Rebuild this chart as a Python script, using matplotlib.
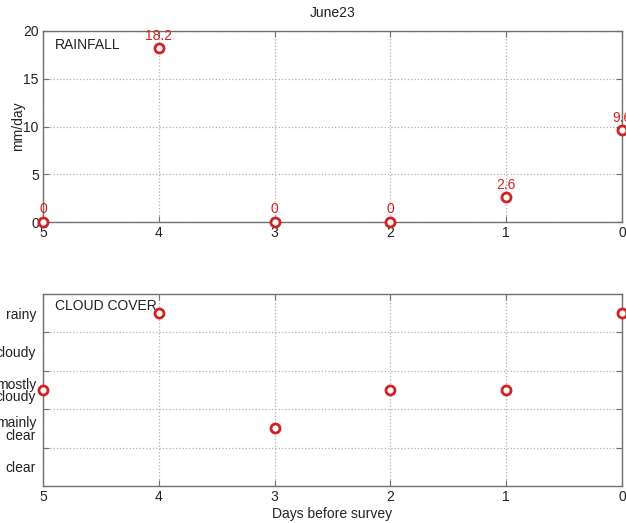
import matplotlib
matplotlib.use("Agg")
import matplotlib.pyplot as plt
from matplotlib.ticker import FixedLocator, NullFormatter, FixedFormatter

plt.rcParams['font.family'] = ['Liberation Sans', 'DejaVu Sans']

days = [5, 4, 3, 2, 1, 0]
rainfall = [0, 18.2, 0, 0, 2.6, 9.6]
rain_labels = ['0', '18.2', '0', '0', '2.6', '9.6']
cloud = [2.5, 4.5, 1.5, 2.5, 2.5, 4.5]
cloud_labels = ['clear', 'mainly\nclear', 'mostly\ncloudy', 'cloudy', 'rainy']
rain_yticks = [0, 5, 10, 15, 20]

W, H = 626, 523
fig = plt.figure(figsize=(W / 100, H / 100), dpi=100)

L = 43 / W
R = 622 / W
ax1 = fig.add_axes([L, 1 - 222 / H, R - L, (222 - 31) / H])
ax2 = fig.add_axes([L, 1 - 486 / H, R - L, (486 - 294) / H])

spine_c = '#707070'
red = '#d62020'
txt = '#222222'
fs = 10

for ax in (ax1, ax2):
    ax.set_xlim(5, 0)
    ax.set_xticks(days)
    ax.set_xticklabels([str(d) for d in days])
    for s in ax.spines.values():
        s.set_color(spine_c)
        s.set_linewidth(1.0)
    ax.tick_params(direction='in', length=4, color=spine_c, labelsize=fs,
                   labelcolor=txt, top=True, right=True, pad=3)
    ax.grid(True, linestyle=':', color='#b0b0b0', linewidth=0.9)
    ax.set_axisbelow(True)

# Rainfall
ax1.set_ylim(0, 20)
ax1.set_yticks(rain_yticks)
ax1.plot(days, rainfall, linestyle='none', marker='o', markersize=6.5,
         markerfacecolor='white', markeredgecolor=red, markeredgewidth=2,
         clip_on=False, zorder=5)
for d, v, t in zip(days, rainfall, rain_labels):
    ax1.annotate(t, (d, v), xytext=(0, 4), textcoords='offset points',
                 ha='center', va='bottom', color=red, fontsize=fs,
                 annotation_clip=False)
ax1.set_ylabel('mm/day', fontsize=fs, color=txt, labelpad=-1)
ax1.text(0.02, 0.965, 'RAINFALL', transform=ax1.transAxes, ha='left', va='top',
         fontsize=fs, color=txt)
ax1.set_title('June23', fontsize=fs, color=txt, pad=10)

# Cloud cover
ax2.set_ylim(0, 5)
ax2.yaxis.set_major_locator(FixedLocator([1, 2, 3, 4]))
ax2.yaxis.set_major_formatter(NullFormatter())
ax2.yaxis.set_minor_locator(FixedLocator([0.5, 1.5, 2.5, 3.5, 4.5]))
ax2.yaxis.set_minor_formatter(FixedFormatter(cloud_labels))
ax2.tick_params(axis='y', which='minor', length=0, labelsize=fs,
                labelcolor=txt, pad=5)
for lab in ax2.get_yticklabels(minor=True):
    lab.set_linespacing(0.9)
ax2.plot(days, cloud, linestyle='none', marker='o', markersize=6.5,
         markerfacecolor='white', markeredgecolor=red, markeredgewidth=2,
         clip_on=False, zorder=5)
ax2.text(0.02, 0.975, 'CLOUD COVER', transform=ax2.transAxes, ha='left', va='top',
         fontsize=fs, color=txt)
ax2.set_xlabel('Days before survey', fontsize=fs, color=txt, labelpad=2)

fig.savefig('out.png', dpi=100)
